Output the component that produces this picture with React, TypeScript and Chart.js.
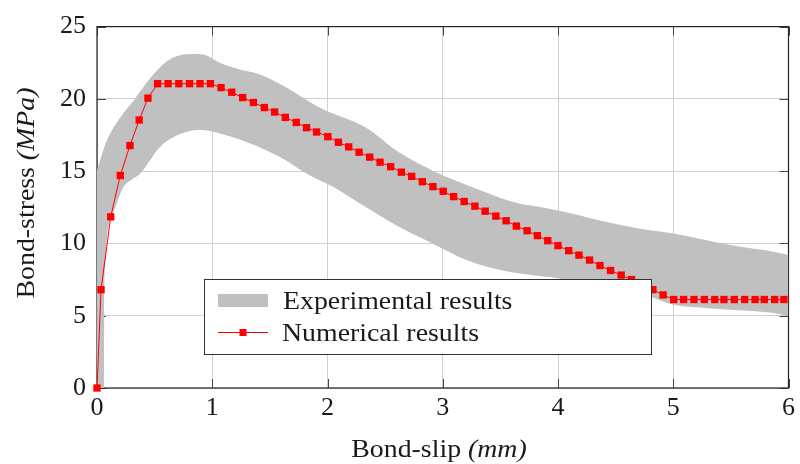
import React, { useEffect, useRef } from "react";
import { Chart, registerables } from "chart.js";

Chart.register(...registerables);

// ---- data ----
const numericalX = [
  0, 0.035, 0.119, 0.202, 0.286, 0.366, 0.442,
  0.526, 0.617, 0.71, 0.803, 0.894, 0.984,
  1.076, 1.169, 1.264, 1.357, 1.452, 1.541, 1.634, 1.729, 1.818, 1.905,
  2.003, 2.095, 2.184, 2.274, 2.366, 2.456, 2.548, 2.641, 2.73, 2.823, 2.915,
  3.004, 3.094, 3.186, 3.279, 3.368, 3.461, 3.55, 3.639, 3.732, 3.821, 3.911,
  4.0, 4.093, 4.182, 4.274, 4.364, 4.456, 4.548, 4.638, 4.727, 4.823, 4.912,
  5.004, 5.09, 5.18, 5.27, 5.36, 5.44, 5.53, 5.62, 5.71, 5.79, 5.88, 5.96,
];
const numericalY = [
  0, 6.8, 11.84, 14.7, 16.77, 18.54, 20.05,
  21.05, 21.05, 21.05, 21.05, 21.05, 21.05,
  20.78, 20.46, 20.09, 19.75, 19.4, 19.09, 18.72, 18.37, 18.01, 17.71,
  17.39, 17.0, 16.68, 16.31, 15.97, 15.62, 15.31, 14.93, 14.64, 14.27, 13.93,
  13.61, 13.24, 12.9, 12.58, 12.23, 11.89, 11.57, 11.2, 10.88, 10.54, 10.19,
  9.85, 9.5, 9.19, 8.85, 8.47, 8.13, 7.81, 7.5, 7.15, 6.8, 6.44,
  6.12, 6.12, 6.12, 6.12, 6.12, 6.12, 6.12, 6.12, 6.12, 6.12, 6.12, 6.12,
];

const expUpperX = [0, 0.084, 0.2, 0.315, 0.49, 0.63, 0.83, 0.92, 1.065, 1.24, 1.41, 1.64, 1.93, 2.335, 2.62, 2.91, 3.32, 3.66, 3.835, 4.12, 4.41, 4.7, 4.99, 5.28, 5.57, 5.86, 6];
const expUpperY = [15.05, 17.1, 18.7, 19.86, 21.7, 22.73, 23.1, 23.07, 22.5, 22.03, 21.7, 20.8, 19.4, 18.0, 16.3, 15.05, 13.7, 12.76, 12.53, 12.07, 11.5, 11.04, 10.7, 10.24, 9.78, 9.44, 9.2];

const expLowerX = [0, 0.06, 0.062, 0.067, 0.14, 0.23, 0.3, 0.372, 0.545, 0.69, 0.89, 1.0, 1.18, 1.41, 1.64, 1.82, 2.05, 2.335, 2.62, 2.91, 3.2, 3.49, 3.78, 4.0, 4.4, 4.79, 4.99, 5.28, 5.57, 5.86, 6];
const expLowerY = [0, 0, 5, 8, 12.1, 13.9, 14.4, 14.8, 16.65, 17.46, 17.85, 17.75, 17.34, 16.65, 15.74, 14.82, 13.9, 12.5, 11.15, 10.0, 8.87, 8.18, 7.8, 7.6, 7.0, 6.34, 5.77, 5.54, 5.38, 5.2, 4.97];

const xTicks = [0, 1, 2, 3, 4, 5, 6];
const yTicks = [0, 5, 10, 15, 20, 25];
const legendLabels = ["Experimental results", "Numerical results"];
const xTitleRuns = [
  { text: "Bond-slip ", italic: false },
  { text: "(mm)", italic: true },
];
const yTitleRuns = [
  { text: "Bond-stress ", italic: false },
  { text: "(MPa)", italic: true },
];

// ---- styles ----
const SERIF = '"Liberation Serif", "DejaVu Serif", serif';
const TEXT = "#1a1a1a";
const BAND = "#c0c0c0";
const RED = "#ff0000";
const SX = 1.07;

type Run = { text: string; italic: boolean };

function drawRuns(
  ctx: CanvasRenderingContext2D,
  runs: Run[],
  size: number,
  centered: boolean
) {
  const widths = runs.map((r) => {
    ctx.font = `${r.italic ? "italic " : ""}${size}px ${SERIF}`;
    return ctx.measureText(r.text).width;
  });
  const total = widths.reduce((a, b) => a + b, 0);
  ctx.save();
  ctx.scale(SX, 1);
  ctx.textAlign = "left";
  ctx.textBaseline = "alphabetic";
  ctx.fillStyle = TEXT;
  let x = centered ? -total / 2 : 0;
  runs.forEach((r, i) => {
    ctx.font = `${r.italic ? "italic " : ""}${size}px ${SERIF}`;
    ctx.fillText(r.text, x, 0);
    x += widths[i];
  });
  ctx.restore();
}

const framePlugin = {
  id: "frame",
  beforeDatasetsDraw(chart: any) {
    const { ctx, chartArea: a, scales } = chart;
    const xs = scales.x;
    const ys = scales.y;
    ctx.save();
    ctx.strokeStyle = "#444";
    ctx.lineWidth = 1;
    const tl = 9;
    xTicks.forEach((v) => {
      const px = Math.round(xs.getPixelForValue(v)) + 0.5;
      ctx.beginPath();
      ctx.moveTo(px, a.bottom);
      ctx.lineTo(px, a.bottom - tl);
      ctx.moveTo(px, a.top);
      ctx.lineTo(px, a.top + tl);
      ctx.stroke();
    });
    yTicks.forEach((v) => {
      const py = Math.round(ys.getPixelForValue(v)) + 0.5;
      ctx.beginPath();
      ctx.moveTo(a.left, py);
      ctx.lineTo(a.left + tl, py);
      ctx.moveTo(a.right, py);
      ctx.lineTo(a.right - tl, py);
      ctx.stroke();
    });
    ctx.strokeStyle = "#222";
    ctx.lineWidth = 1.2;
    ctx.strokeRect(a.left, a.top, a.right - a.left, a.bottom - a.top);
    ctx.restore();
  },
  afterDraw(chart: any) {
    const { ctx } = chart;
    ctx.save();
    // legend box
    const lx = 204, ly = 279, lw = 447, lh = 75;
    ctx.fillStyle = "#ffffff";
    ctx.fillRect(lx, ly, lw, lh);
    ctx.strokeStyle = "#333";
    ctx.lineWidth = 1;
    ctx.strokeRect(lx + 0.5, ly + 0.5, lw, lh);
    // band swatch
    ctx.fillStyle = BAND;
    ctx.fillRect(218, 294, 50, 13);
    // line swatch
    ctx.strokeStyle = RED;
    ctx.lineWidth = 1;
    ctx.beginPath();
    ctx.moveTo(218, 332.5);
    ctx.lineTo(268, 332.5);
    ctx.stroke();
    ctx.fillStyle = RED;
    ctx.fillRect(239.5, 329, 7, 7);
    // legend texts
    ctx.save();
    ctx.translate(283, 309);
    drawRuns(ctx, [{ text: legendLabels[0], italic: false }], 26, false);
    ctx.restore();
    ctx.save();
    ctx.translate(282, 341);
    drawRuns(ctx, [{ text: legendLabels[1], italic: false }], 26, false);
    ctx.restore();
    // x title
    ctx.save();
    ctx.translate(439, 457);
    drawRuns(ctx, xTitleRuns, 26, true);
    ctx.restore();
    // y title
    ctx.save();
    ctx.translate(34, 193);
    ctx.rotate(-Math.PI / 2);
    drawRuns(ctx, yTitleRuns, 26, true);
    ctx.restore();
    ctx.restore();
  },
};

export default function App() {
  const ref = useRef<HTMLCanvasElement | null>(null);

  useEffect(() => {
    if (!ref.current) return;
    const tickFont = { family: SERIF, size: 26 };
    const chart = new Chart(ref.current, {
      type: "line",
      data: {
        datasets: [
          {
            label: legendLabels[1],
            data: numericalX.map((x, i) => ({ x, y: numericalY[i] })),
            borderColor: RED,
            backgroundColor: RED,
            borderWidth: 1,
            pointStyle: "rect",
            pointRadius: 5.2,
            pointBorderWidth: 0,
            pointBackgroundColor: RED,
            fill: false,
            clip: false as any,
            tension: 0,
          },
          {
            label: legendLabels[0],
            data: expUpperX.map((x, i) => ({ x, y: expUpperY[i] })),
            borderWidth: 0,
            borderColor: BAND,
            backgroundColor: BAND,
            pointRadius: 0,
            fill: "+1",
            cubicInterpolationMode: "monotone",
          },
          {
            label: "lower",
            data: expLowerX.map((x, i) => ({ x, y: expLowerY[i] })),
            borderWidth: 0,
            borderColor: BAND,
            backgroundColor: BAND,
            pointRadius: 0,
            fill: false,
            cubicInterpolationMode: "monotone",
          },
        ],
      },
      options: {
        animation: false,
        responsive: false,
        devicePixelRatio: 1,
        layout: { padding: { top: 24, right: 10, left: 0, bottom: 0 } },
        plugins: {
          legend: { display: false },
          tooltip: { enabled: false },
        },
        scales: {
          x: {
            type: "linear",
            min: 0,
            max: 6,
            afterBuildTicks: (s: any) => {
              s.ticks = xTicks.map((v) => ({ value: v }));
            },
            afterFit: (s: any) => {
              s.height = 76;
            },
            ticks: { font: tickFont, color: TEXT, padding: 5, maxRotation: 0 },
            grid: { color: "#cfcfcf", lineWidth: 1, drawTicks: false },
            border: { display: false },
          },
          y: {
            type: "linear",
            min: 0,
            max: 25,
            afterBuildTicks: (s: any) => {
              s.ticks = yTicks.map((v) => ({ value: v }));
            },
            afterFit: (s: any) => {
              s.width = 97;
            },
            ticks: { font: tickFont, color: TEXT, padding: 11 },
            grid: { color: "#cfcfcf", lineWidth: 1, drawTicks: false },
            border: { display: false },
          },
        },
      },
      plugins: [framePlugin],
    });
    return () => chart.destroy();
  }, []);

  return (
    <div style={{ position: "absolute", left: 0, top: 0, width: 800, height: 464, background: "#fff" }}>
      <canvas ref={ref} width={800} height={464} style={{ width: 800, height: 464, display: "block" }} />
    </div>
  );
}
